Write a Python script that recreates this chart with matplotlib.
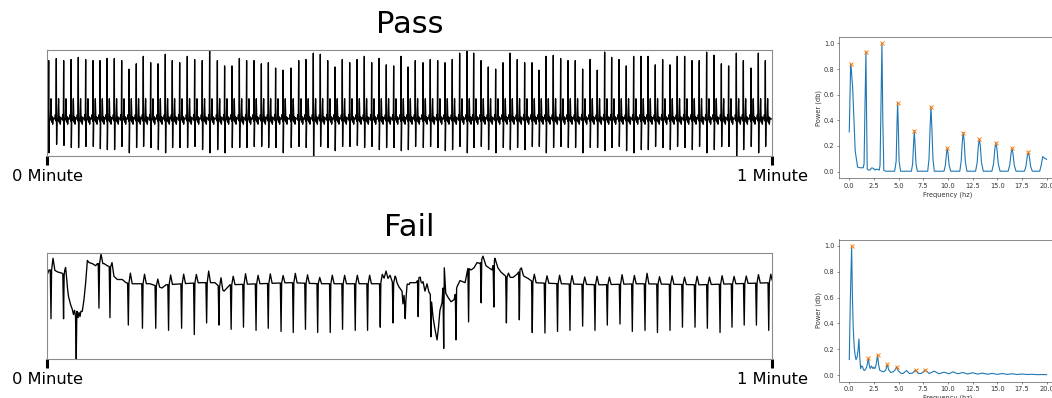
import numpy as np
import matplotlib.pyplot as plt

# ── ECG strips (1 minute window, seconds; amplitude normalised 0..1) ────────
pass_beat_t = [
    0.14, 0.77, 1.38, 1.99, 2.59, 3.20, 3.81, 4.39, 4.97, 5.57,
    6.18, 6.79, 7.39, 7.97, 8.58, 9.19, 9.79, 10.37, 10.98, 11.61,
    12.22, 12.85, 13.46, 14.10, 14.70, 15.31, 15.92, 16.52, 17.13, 17.74,
    18.32, 18.92, 19.53,
    20.19, 20.83, 21.43, 22.04, 22.62, 23.23, 23.83, 24.44, 25.05, 25.66,
    26.26, 26.87, 27.48, 28.08, 28.69, 29.30, 29.88, 30.48, 31.12, 31.72,
    32.33, 32.94, 33.54, 34.15, 34.76, 35.31, 35.92, 36.52, 37.13, 37.74,
    38.32, 38.92, 39.53, 40.14,
    40.72, 41.30, 41.90, 42.51, 43.12, 43.72, 44.33, 44.94, 45.54, 46.15,
    46.73, 47.34, 47.94, 48.55, 49.16, 49.74, 50.34, 50.95, 51.56, 52.16,
    52.77, 53.38, 53.98, 54.59, 55.20, 55.81, 56.41, 57.05, 57.63, 58.26,
    58.87, 59.45,
]
pass_r = [
    0.90, 0.92, 0.90, 0.91, 0.93, 0.91, 0.90, 0.90, 0.92, 0.92,
    0.90, 0.82, 0.87, 0.94, 0.88, 0.87, 0.96, 0.90, 0.88, 0.94,
    0.91, 0.90, 1.00, 0.90, 0.85, 0.85, 0.92, 0.90, 0.90, 0.87,
    0.88, 0.83, 0.81,
    0.83, 0.90, 0.91, 0.97, 0.96, 0.90, 0.84, 0.91, 0.88, 0.91,
    0.94, 0.88, 0.92, 0.86, 0.85, 0.94, 0.84, 0.90, 0.88, 0.91,
    0.90, 0.88, 0.91, 0.97, 1.00, 0.97, 0.90, 0.84, 0.82, 0.88,
    0.97, 0.91, 0.88, 0.88,
    0.81, 0.94, 0.95, 0.92, 0.90, 0.90, 0.82, 0.91, 0.81, 0.98,
    0.93, 0.91, 0.85, 0.94, 0.94, 0.94, 0.86, 0.91, 0.86, 0.94,
    0.94, 0.90, 0.90, 0.98, 0.95, 0.87, 0.85, 0.97, 0.90, 0.83,
    0.97, 0.90,
]
pass_s = [
    0.03, 0.11, 0.10, 0.08, 0.08, 0.09, 0.09, 0.07, 0.06, 0.06,
    0.09, 0.03, 0.08, 0.09, 0.08, 0.06, 0.03, 0.08, 0.08, 0.08,
    0.09, 0.06, 0.03, 0.06, 0.03, 0.08, 0.08, 0.08, 0.09, 0.09,
    0.08, 0.08, 0.03,
    0.08, 0.09, 0.08, 0.00, 0.09, 0.08, 0.05, 0.09, 0.09, 0.10,
    0.08, 0.09, 0.06, 0.08, 0.08, 0.05, 0.06, 0.09, 0.08, 0.09,
    0.08, 0.05, 0.06, 0.09, 0.03, 0.08, 0.09, 0.06, 0.03, 0.08,
    0.06, 0.08, 0.06, 0.09,
    0.09, 0.03, 0.08, 0.09, 0.08, 0.08, 0.03, 0.08, 0.08, 0.05,
    0.08, 0.09, 0.05, 0.03, 0.06, 0.06, 0.09, 0.08, 0.06, 0.09,
    0.08, 0.06, 0.09, 0.03, 0.06, 0.09, 0.09, 0.00, 0.06, 0.09,
    0.03, 0.09,
]
pass_base_t = [0.0, 60.0]
pass_base_v = [0.35, 0.35]

fail_beat_t = [
    0.33, 1.37, 2.42, 4.30, 5.21, 6.73, 7.90, 9.00, 10.06, 11.14,
    12.19, 13.21, 14.23, 15.24, 16.26, 17.30, 18.31, 19.37, 20.38, 21.39,
    22.40, 23.44, 24.46, 25.51, 26.53, 27.58, 28.64, 29.65, 30.72, 31.78,
    32.83, 33.85, 34.89, 35.93, 36.98, 38.02, 39.09, 40.16, 41.21, 42.25,
    43.28, 44.33, 45.35, 46.37, 47.42, 48.44, 49.49, 50.52, 51.56, 52.59,
    53.63, 54.65, 55.70, 56.69, 57.70, 58.71, 59.73,
]
fail_depth = [
    0.38, 0.38, 0.00, 0.48, 0.39, 0.32, 0.29, 0.29, 0.27, 0.29,
    0.23, 0.34, 0.32, 0.28, 0.30, 0.27, 0.29, 0.26, 0.25, 0.28,
    0.25, 0.25, 0.28, 0.27, 0.27, 0.30, 0.34, 0.38, 0.40, 0.21,
    0.10, 0.18, 0.35, 0.53, 0.49, 0.34, 0.37, 0.25, 0.245, 0.26,
    0.27, 0.31, 0.27, 0.32, 0.33, 0.26, 0.27, 0.25, 0.27, 0.30,
    0.30, 0.29, 0.25, 0.30, 0.32, 0.32, 0.27,
]
fail_bump = [
    0.11, 0.10, 0.00, 0.09, 0.05, 0.10, 0.09, 0.07, 0.09, 0.09,
    0.08, 0.11, 0.10, 0.08, 0.10, 0.08, 0.09, 0.07, 0.09, 0.08,
    0.06, 0.08, 0.08, 0.08, 0.08, 0.06, 0.05, 0.04, 0.05, 0.00,
    0.00, 0.00, 0.00, 0.00, 0.00, 0.04, 0.04, 0.08, 0.07, 0.08,
    0.08, 0.07, 0.08, 0.07, 0.09, 0.08, 0.10, 0.07, 0.08, 0.07,
    0.08, 0.07, 0.08, 0.07, 0.07, 0.08, 0.08,
]
# baseline wander of the failing strip
fail_base_t = [
    0.00, 0.17, 0.58, 0.91, 1.24, 1.49, 1.66, 1.78, 1.96, 2.09,
    2.19, 2.28, 2.36, 2.48, 2.57, 2.65, 2.73, 2.81, 2.92, 3.06,
    3.20, 3.34, 3.48, 3.75, 4.03, 4.17, 4.72, 4.99, 5.38, 5.54,
    5.82, 6.23, 6.54, 6.87, 8.52, 9.52, 9.85, 12.66, 13.90, 14.65,
    15.14, 17.63, 20.11, 22.59, 25.90, 27.56, 27.89, 28.06, 28.22, 28.39,
    28.63, 28.88, 29.13, 29.38, 29.46, 29.55, 29.63, 29.79, 30.04, 30.54,
    30.79, 30.95, 31.12, 31.28, 31.45, 31.61, 31.78, 31.94, 32.11, 32.28,
    32.40, 32.52, 32.69, 32.88, 33.00, 33.20, 33.44, 33.69, 33.93, 34.18,
    34.60, 34.84, 35.09, 35.34, 35.59, 35.84, 36.08, 36.33, 36.58, 36.83,
    37.07, 37.32, 37.57, 38.07, 38.57, 38.90, 39.15, 39.48, 39.81, 40.30,
    42.46, 45.77, 49.08, 54.04, 60.00,
]
fail_base_v = [
    0.79, 0.84, 0.84, 0.82, 0.81, 0.79, 0.70, 0.59, 0.51, 0.47,
    0.42, 0.46, 0.40, 0.45, 0.39, 0.44, 0.40, 0.45, 0.45, 0.56,
    0.72, 0.93, 0.91, 0.90, 0.88, 0.90, 0.90, 0.88, 0.86, 0.78,
    0.75, 0.75, 0.72, 0.71, 0.71, 0.67, 0.70, 0.72, 0.72, 0.64,
    0.70, 0.71, 0.72, 0.71, 0.71, 0.71, 0.76, 0.83, 0.76, 0.79,
    0.71, 0.74, 0.68, 0.64, 0.52, 0.60, 0.46, 0.66, 0.72, 0.72,
    0.76, 0.70, 0.73, 0.64, 0.71, 0.63, 0.60, 0.40, 0.28, 0.18,
    0.30, 0.46, 0.53, 0.86, 0.62, 0.58, 0.54, 0.56, 0.68, 0.74,
    0.72, 0.86, 0.84, 0.86, 0.91, 0.90, 0.97, 0.88, 0.86, 0.84,
    0.95, 0.86, 0.82, 0.77, 0.77, 0.80, 0.84, 0.78, 0.76, 0.72,
    0.71, 0.70, 0.71, 0.70, 0.72,
]

# beat shapes (seconds from the R/S spike, values relative to baseline)
PASS_OFFSETS = [-0.12, -0.08, -0.03, 0.0, 0.025, 0.06, 0.13, 0.19, 0.24, 0.29, 0.33, 0.38, 0.45]
PASS_SHAPE = [0.0, 0.04, -0.02, None, None, 0.0, -0.01, 0.19, -0.03, 0.02, -0.05, 0.01, 0.0]
FAIL_OFFSETS = [-0.06, 0.0, 0.05, 0.17, 0.32]

# ── Frequency spectra ───────────────────────────────────────────────────────
pass_freq = [
    0.00, 0.14, 0.22, 0.34, 0.45, 0.52, 0.60, 0.68, 0.76, 0.84,
    1.10, 1.42, 1.50, 1.58, 1.69, 1.76, 1.82, 1.95, 2.10, 2.26,
    2.43, 2.60, 2.75, 2.84, 3.04, 3.12, 3.20, 3.31, 3.40, 3.50,
    3.70, 4.60, 4.75, 4.83, 4.90, 4.97, 5.05, 5.20, 6.30, 6.42,
    6.52, 6.59, 6.66, 6.76, 6.90, 7.95, 8.08, 8.20, 8.28, 8.36,
    8.48, 8.62, 9.60, 9.74, 9.85, 9.93, 10.01, 10.12, 10.28, 11.20,
    11.34, 11.46, 11.55, 11.64, 11.76, 11.92, 12.80, 12.96, 13.08, 13.18,
    13.28, 13.40, 13.58, 14.45, 14.62, 14.76, 14.86, 14.96, 15.10, 15.28,
    16.10, 16.26, 16.40, 16.49, 16.58, 16.72, 16.90, 17.75, 17.90, 18.04,
    18.14, 18.24, 18.38, 18.55, 19.30, 19.45, 19.60, 19.70, 19.80, 19.90,
    20.00,
]
pass_power = [
    0.31, 0.84, 0.78, 0.66, 0.45, 0.32, 0.16, 0.12, 0.08, 0.035,
    0.03, 0.03, 0.06, 0.45, 0.935, 0.40, 0.02, 0.012, 0.013, 0.028,
    0.026, 0.012, 0.018, 0.018, 0.012, 0.05, 0.45, 1.00, 0.40, 0.01,
    0.003, 0.003, 0.08, 0.35, 0.538, 0.35, 0.08, 0.003, 0.003, 0.06,
    0.22, 0.319, 0.22, 0.06, 0.003, 0.003, 0.10, 0.36, 0.506, 0.36,
    0.10, 0.003, 0.003, 0.05, 0.14, 0.182, 0.14, 0.05, 0.003, 0.003,
    0.08, 0.24, 0.304, 0.24, 0.08, 0.003, 0.003, 0.07, 0.20, 0.252,
    0.20, 0.07, 0.003, 0.003, 0.06, 0.18, 0.226, 0.18, 0.06, 0.003,
    0.003, 0.05, 0.145, 0.182, 0.145, 0.05, 0.003, 0.003, 0.04, 0.12,
    0.153, 0.12, 0.04, 0.003, 0.003, 0.05, 0.117, 0.11, 0.104, 0.10,
    0.096,
]
pass_peak_f = [0.14, 1.69, 3.31, 4.90, 6.59, 8.28, 9.93, 11.55, 13.18, 14.86, 16.49, 18.14]
pass_peak_p = [0.84, 0.935, 1.00, 0.538, 0.319, 0.506, 0.182, 0.304, 0.252, 0.226, 0.182, 0.153]

fail_freq = [
    0.00, 0.10, 0.24, 0.32, 0.40, 0.50, 0.58, 0.68, 0.80, 0.90,
    0.98, 1.06, 1.15, 1.25, 1.35, 1.45, 1.55, 1.65, 1.75, 1.85,
    1.93, 2.02, 2.12, 2.25, 2.40, 2.50, 2.60, 2.72, 2.87, 2.97,
    3.10, 3.30, 3.50, 3.70, 3.85, 4.00, 4.20, 4.45, 4.65, 4.80,
    4.95, 5.20, 5.45, 5.80, 6.10, 6.40, 6.72, 7.00, 7.30, 7.70,
    8.10, 8.60, 9.10, 9.60, 10.10, 10.50, 11.00, 11.50, 12.00, 12.50,
    13.00, 13.50, 14.00, 14.50, 15.00, 15.50, 16.00, 16.50, 17.00, 17.50,
    18.00, 18.50, 19.00, 19.50, 20.00,
]
fail_power = [
    0.12, 0.55, 1.00, 0.60, 0.37, 0.22, 0.16, 0.12, 0.14, 0.20,
    0.28, 0.14, 0.05, 0.07, 0.065, 0.04, 0.035, 0.045, 0.06, 0.09,
    0.13, 0.08, 0.05, 0.07, 0.05, 0.06, 0.05, 0.08, 0.155, 0.08,
    0.035, 0.03, 0.025, 0.04, 0.083, 0.04, 0.02, 0.025, 0.04, 0.065,
    0.035, 0.015, 0.012, 0.035, 0.012, 0.015, 0.039, 0.012, 0.012, 0.039,
    0.012, 0.03, 0.01, 0.022, 0.01, 0.025, 0.01, 0.02, 0.008, 0.018,
    0.007, 0.015, 0.006, 0.013, 0.005, 0.012, 0.005, 0.01, 0.004, 0.008,
    0.004, 0.006, 0.003, 0.004, 0.003,
]
fail_peak_f = [0.24, 1.93, 2.87, 3.85, 4.80, 6.72, 7.70]
fail_peak_p = [1.00, 0.13, 0.155, 0.083, 0.065, 0.039, 0.039]


def ecg_trace(base_t, base_v, beat_t, offsets, shapes):
    """Baseline plus one beat shape per beat, evaluated at the knots only."""
    off = np.asarray(offsets)
    knots = [np.asarray(base_t)] + [bt + off for bt in beat_t]
    t = np.unique(np.clip(np.concatenate(knots), 0.0, 60.0))
    v = np.interp(t, base_t, base_v)
    for bt, rel in zip(beat_t, shapes):
        v += np.interp(t - bt, off, rel, left=0.0, right=0.0)
    return t, v


pass_shapes = []
for r, s in zip(pass_r, pass_s):
    row = list(PASS_SHAPE)
    row[3] = r - pass_base_v[0]
    row[4] = s - pass_base_v[0]
    pass_shapes.append(row)

fail_shapes = []
for bt, d, b in zip(fail_beat_t, fail_depth, fail_bump):
    base_here = np.interp(bt, fail_base_t, fail_base_v)
    fail_shapes.append([0, d - base_here, 0, b, 0])

t_pass, v_pass = ecg_trace(pass_base_t, pass_base_v, pass_beat_t, PASS_OFFSETS, pass_shapes)
t_fail, v_fail = ecg_trace(fail_base_t, fail_base_v, fail_beat_t, FAIL_OFFSETS, fail_shapes)

# ── Plot ────────────────────────────────────────────────────────────────────
W, H = 1052, 398
fig = plt.figure(figsize=(W / 100, H / 100), dpi=100)


def px_axes(left, top, right, bottom):
    return fig.add_axes([left / W, 1 - bottom / H, (right - left) / W, (bottom - top) / H])


def strip(ax, t, v, title):
    ax.plot(t, v, color="black", lw=0.95)
    ax.set_xlim(0, 60)
    ax.set_ylim(0, 1)
    ax.set_yticks([])
    ax.set_xticks([0, 60])
    ax.set_xticklabels(["0 Minute", "1 Minute"])
    ax.tick_params(axis="x", length=6.5, width=2.2, color="black", pad=3, labelsize=11.7)
    for sp in ax.spines.values():
        sp.set_color("#8c8c8c")
        sp.set_linewidth(0.8)
    ax.set_title(title, fontsize=22, pad=12)


def spectrum(ax, f, p, pf, pp):
    ax.plot(f, p, color="#1f77b4", lw=0.8)
    ax.plot(pf, pp, "x", color="#ff7f0e", ms=3, mew=0.7)
    ax.set_xlim(-1, 21)
    ax.set_ylim(-0.05, 1.05)
    ax.set_xticks(np.arange(0, 20.1, 2.5))
    ax.set_xticklabels([f"{x:.1f}" for x in np.arange(0, 20.1, 2.5)])
    ax.set_yticks(np.arange(0, 1.01, 0.2))
    ax.set_yticklabels([f"{y:.1f}" for y in np.arange(0, 1.01, 0.2)])
    ax.tick_params(labelsize=4.8, length=1.7, width=0.4, pad=1.7, colors="#333333")
    for sp in ax.spines.values():
        sp.set_linewidth(0.4)
        sp.set_color("#333333")
    ax.set_xlabel("Frequency (hz)", fontsize=4.8, labelpad=1.7, color="#333333")
    ax.set_ylabel("Power (db)", fontsize=4.8, labelpad=1.7, color="#333333")


strip(px_axes(47, 50, 772, 156), t_pass, v_pass, "Pass")
strip(px_axes(47, 253, 772, 359), t_fail, v_fail, "Fail")
spectrum(px_axes(839.4, 37, 1056.5, 178), pass_freq, pass_power, pass_peak_f, pass_peak_p)
spectrum(px_axes(839.4, 239.5, 1056.5, 381.5), fail_freq, fail_power, fail_peak_f, fail_peak_p)

fig.savefig("out.png", dpi=100)
